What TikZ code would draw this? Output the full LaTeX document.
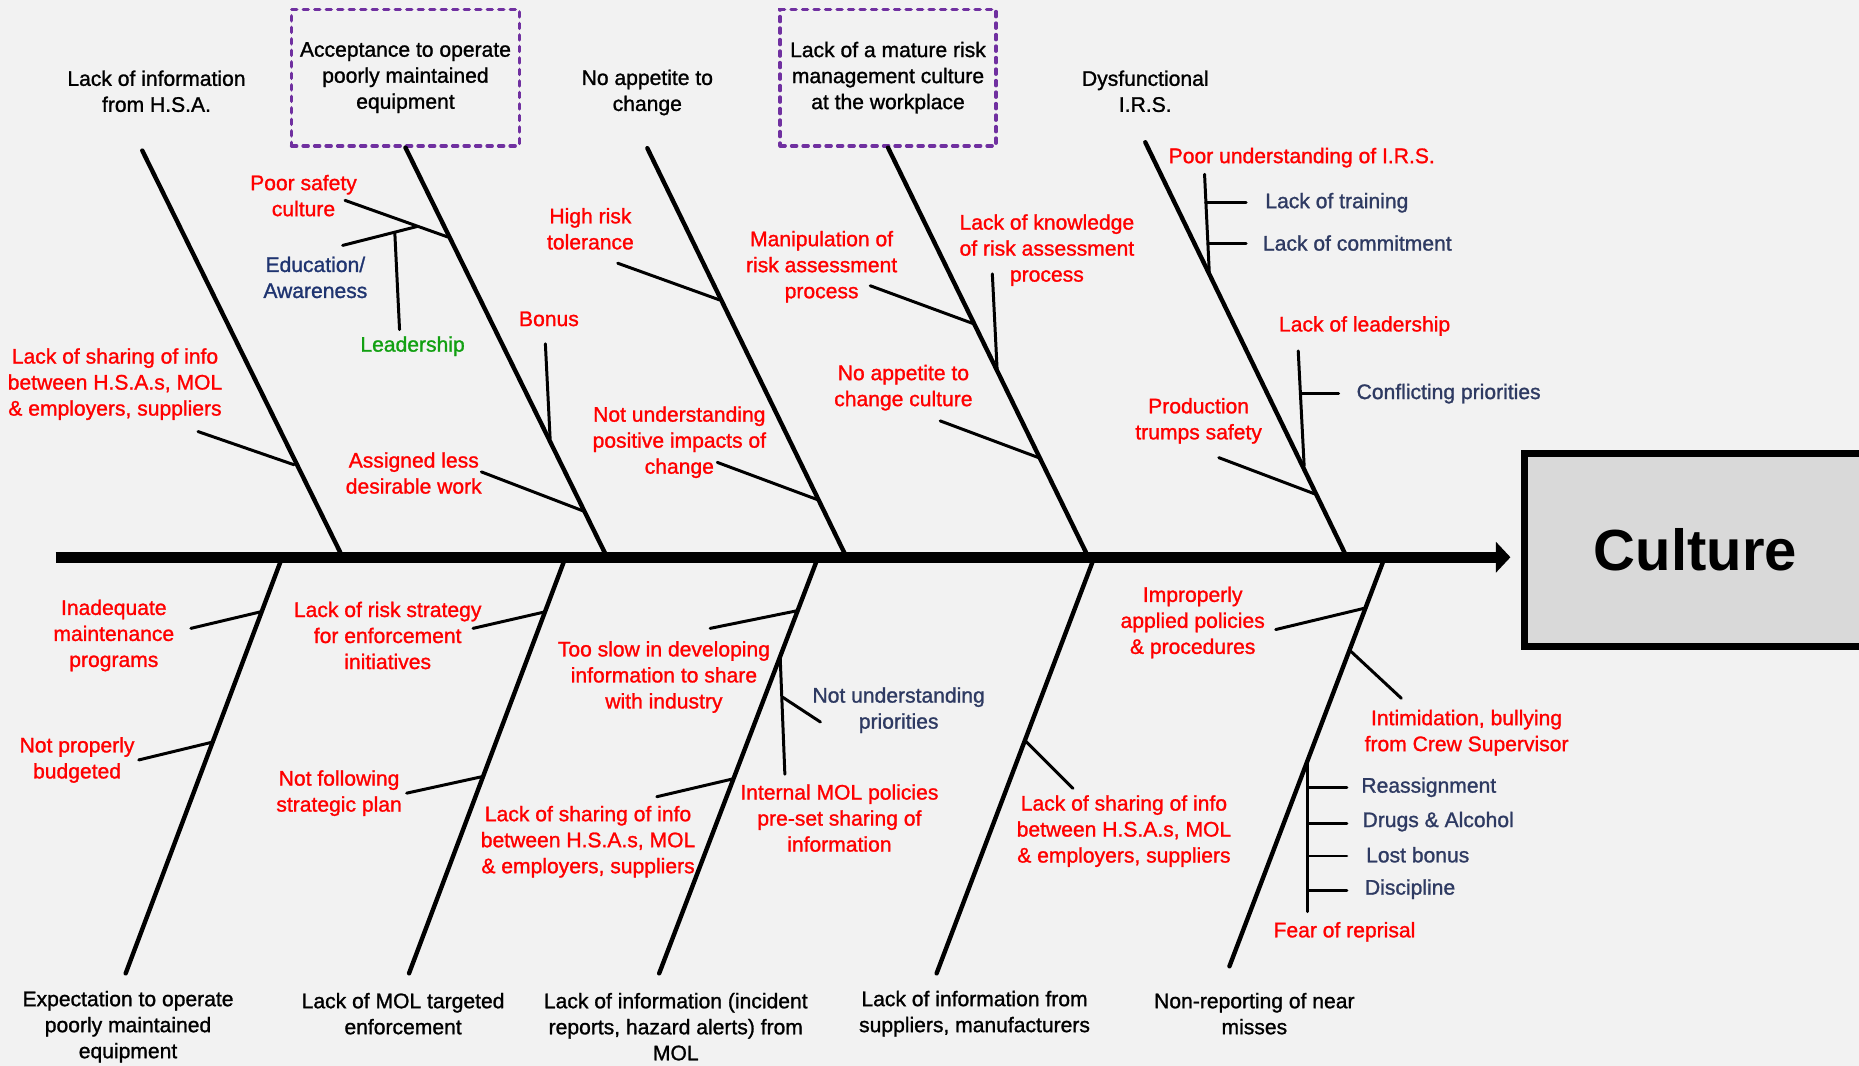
\documentclass[tikz,border=0pt]{standalone}
\usepackage{fontspec}
\setmainfont{Liberation Sans}[UprightFeatures={FakeBold=1.2}]
\usetikzlibrary{arrows.meta}
\definecolor{bg}{HTML}{F2F2F2}
\definecolor{boxgray}{HTML}{D9D9D9}
\definecolor{labred}{HTML}{FF0000}
\definecolor{labblue}{HTML}{2E3A62}
\definecolor{navyblue}{HTML}{1F3470}
\definecolor{labgreen}{HTML}{12A012}
\definecolor{dashpurple}{HTML}{7030A0}
\tikzset{
  txt/.style={font=\fontsize{12}{14.8}\selectfont, align=center, inner sep=0pt},
  blk/.style={txt, text=black},
  rd/.style={txt, text=labred},
  bl/.style={txt, text=labblue},
  bone/.style={line width=2.5pt, line cap=round},
  twig/.style={line width=1.7pt, line cap=round},
  dashbox/.style={draw=dashpurple, line width=2pt, line cap=round, dash pattern=on 0.1cm off 0.13cm, minimum height=2.727cm, txt},
  spine/.style={line width=6.1pt, -{Triangle[length=0.29cm,width=0.6cm]}},
}
\begin{document}
\begin{tikzpicture}[x=0.023712cm,y=-0.023712cm]
\useasboundingbox (0,0) rectangle (1568,899);
\clip (0,0) rectangle (1568,899);
\fill[bg] (0,0) rectangle (1568,899);

% ---------- head ----------
\node (culture) [draw, line width=3.8pt, fill=boxgray, minimum width=6.83cm, minimum height=3.865cm, inner sep=0pt, font=\fontsize{33}{40}\selectfont\bfseries] at (1430,464) {Culture};

% ---------- spine ----------
\coordinate (S0) at (47,470);
\coordinate (S1) at (1274,470);
\draw[spine] (S0) -- (S1);

% ---------- top categories ----------
\node (catA) [blk] at (132,77) {Lack of information\\from H.S.A.};
\node (box1) [dashbox, minimum width=4.553cm] at (342,65.5) {Acceptance to operate\\poorly maintained\\equipment};
\node (catC) [blk] at (546,78) {No appetite to\\change};
\node (box2) [dashbox, minimum width=4.316cm] at (749,65.5) {Lack of a mature risk\\management culture\\at the workplace};
\node (catE) [blk] at (966,77) {Dysfunctional\\I.R.S.};

\coordinate (At) at (120,127); \coordinate (Ab) at (288,468);
\coordinate (Bb) at (511,468);
\coordinate (Ct) at (546,125); \coordinate (Cb) at (713,468);
\coordinate (Db) at (917,468);
\coordinate (Et) at (966,120); \coordinate (Eb) at (1135,468);
\draw[bone] (At) -- (Ab);
\draw[bone] (box1.south) -- (Bb);
\draw[bone] (Ct) -- (Cb);
\draw[bone] (box2.south) -- (Db);
\draw[bone] (Et) -- (Eb);

% ---------- bottom categories ----------
\node (catF) [blk] at (108,866) {Expectation to operate\\poorly maintained\\equipment};
\node (catG) [blk] at (340,855) {Lack of MOL targeted\\enforcement};
\node (catH) [blk] at (570,866) {Lack of information (incident\\reports, hazard alerts) from\\MOL};
\node (catI) [blk] at (822,855) {Lack of information from\\suppliers, manufacturers};
\node (catJ) [blk] at (1058,855) {Non-reporting of near\\misses};

\coordinate (Ft) at (238,470); \coordinate (Fb) at (106,821);
\coordinate (Gt) at (477,470); \coordinate (Gb) at (345,821);
\coordinate (Ht) at (690,470); \coordinate (Hb) at (556,821);
\coordinate (It) at (923,470); \coordinate (Ib) at (790,821);
\coordinate (Jt) at (1168,470); \coordinate (Jb) at (1037,815);
\draw[bone] (Ft) -- (Fb);
\draw[bone] (Gt) -- (Gb);
\draw[bone] (Ht) -- (Hb);
\draw[bone] (It) -- (Ib);
\draw[bone] (Jt) -- (Jb);

% ---------- bone A ----------
\node (a1) [rd] at (97,324) {Lack of sharing of info\\between H.S.A.s, MOL\\\& employers, suppliers};
\coordinate (a1s) at (167,364); \coordinate (a1e) at (248,392);
\draw[twig] (a1s) -- (a1e);

% ---------- bone B ----------
\node (b1) [rd] at (256,165) {Poor safety\\culture};
\coordinate (b1s) at (291,169); \coordinate (b1e) at (378,200);
\draw[twig] (b1s) -- (b1e);
\node (b2) [txt, text=navyblue] at (266,234) {Education/\\Awareness};
\coordinate (b2s) at (289,207); \coordinate (b2e) at (352,191);
\draw[twig] (b2s) -- (b2e);
\node (b3) [txt, text=labgreen] at (348,292) {Leadership};
\coordinate (b3s) at (337,278); \coordinate (b3e) at (333,196);
\draw[twig] (b3s) -- (b3e);
\node (b4) [rd] at (463,269) {Bonus};
\coordinate (b4s) at (460,290); \coordinate (b4e) at (464,370);
\draw[twig] (b4s) -- (b4e);
\node (b5) [rd] at (349,399) {Assigned less\\desirable work};
\coordinate (b5s) at (406,398); \coordinate (b5e) at (492,431);
\draw[twig] (b5s) -- (b5e);

% ---------- bone C ----------
\node (c1) [rd] at (498,193) {High risk\\tolerance};
\coordinate (c1s) at (521,222); \coordinate (c1e) at (607,253);
\draw[twig] (c1s) -- (c1e);
\node (c2) [rd] at (573,373) {Not understanding\\positive impacts of\\change};
\coordinate (c2s) at (605,390); \coordinate (c2e) at (691,422);
\draw[twig] (c2s) -- (c2e);

% ---------- bone D ----------
\node (d1) [rd] at (693,225) {Manipulation of\\risk assessment\\process};
\coordinate (d1s) at (734,241); \coordinate (d1e) at (821,273);
\draw[twig] (d1s) -- (d1e);
\node (d2) [rd] at (883,211) {Lack of knowledge\\of risk assessment\\process};
\coordinate (d2s) at (837,231); \coordinate (d2e) at (841,311);
\draw[twig] (d2s) -- (d2e);
\node (d3) [rd] at (762,327) {No appetite to\\change culture};
\coordinate (d3s) at (793,355); \coordinate (d3e) at (876,386);
\draw[twig] (d3s) -- (d3e);

% ---------- bone E ----------
\node (e1) [rd] at (1098,133) {Poor understanding of I.R.S.};
\coordinate (e1s) at (1016,147); \coordinate (e1e) at (1020,230);
\draw[twig] (e1s) -- (e1e);
\node (e1a) [bl, anchor=west] at (1067,171) {Lack of training};
\coordinate (e1as) at (1017,171); \coordinate (e1ae) at (1051,171);
\draw[twig] (e1as) -- (e1ae);
\node (e1b) [bl, anchor=west] at (1065,205) {Lack of commitment};
\coordinate (e1bs) at (1019,205); \coordinate (e1be) at (1051,205);
\draw[twig] (e1bs) -- (e1be);
\node (e2) [rd] at (1151,275) {Lack of leadership};
\coordinate (e2s) at (1095,296); \coordinate (e2e) at (1100,393);
\draw[twig] (e2s) -- (e2e);
\node (e2a) [bl, anchor=west] at (1144,332) {Conflicting priorities};
\coordinate (e2as) at (1097,332); \coordinate (e2ae) at (1129,332);
\draw[twig] (e2as) -- (e2ae);
\node (e3) [rd] at (1011,355) {Production\\trumps safety};
\coordinate (e3s) at (1028,386); \coordinate (e3e) at (1110,417);
\draw[twig] (e3s) -- (e3e);

% ---------- bone F ----------
\node (f1) [rd] at (96,536) {Inadequate\\maintenance\\programs};
\coordinate (f1s) at (161,530); \coordinate (f1e) at (220,516);
\draw[twig] (f1s) -- (f1e);
\node (f2) [rd] at (65,641) {Not properly\\budgeted};
\coordinate (f2s) at (117,641); \coordinate (f2e) at (179,626);
\draw[twig] (f2s) -- (f2e);

% ---------- bone G ----------
\node (g1) [rd] at (327,536) {Lack of risk strategy\\for enforcement\\initiatives};
\coordinate (g1s) at (399,530); \coordinate (g1e) at (460,516);
\draw[twig] (g1s) -- (g1e);
\node (g2) [rd] at (286,669) {Not following\\strategic plan};
\coordinate (g2s) at (343,669); \coordinate (g2e) at (407,655);
\draw[twig] (g2s) -- (g2e);

% ---------- bone H ----------
\node (h1) [rd] at (560,571) {Too slow in developing\\information to share\\with industry};
\coordinate (h1s) at (599,530); \coordinate (h1e) at (673,515);
\draw[twig] (h1s) -- (h1e);
\node (h2) [rd] at (708,690) {Internal MOL policies\\pre-set sharing of\\information};
\coordinate (h2s) at (662,653); \coordinate (h2e) at (658,553);
\draw[twig] (h2s) -- (h2e);
\node (h2a) [bl] at (758,599) {Not understanding\\priorities};
\coordinate (h2as) at (692,609); \coordinate (h2ae) at (660,588);
\draw[twig] (h2as) -- (h2ae);
\node (h3) [rd] at (496,710) {Lack of sharing of info\\between H.S.A.s, MOL\\\& employers, suppliers};
\coordinate (h3s) at (554,672); \coordinate (h3e) at (618,657);
\draw[twig] (h3s) -- (h3e);

% ---------- bone I ----------
\node (i1) [rd] at (948,701) {Lack of sharing of info\\between H.S.A.s, MOL\\\& employers, suppliers};
\coordinate (i1s) at (905,665); \coordinate (i1e) at (865,625);
\draw[twig] (i1s) -- (i1e);

% ---------- bone J ----------
\node (j1) [rd] at (1006,525) {Improperly\\applied policies\\\& procedures};
\coordinate (j1s) at (1076,531); \coordinate (j1e) at (1151,513);
\draw[twig] (j1s) -- (j1e);
\node (j2) [rd] at (1237,618) {Intimidation, bullying\\from Crew Supervisor};
\coordinate (j2s) at (1182,589); \coordinate (j2e) at (1139,549);
\draw[twig] (j2s) -- (j2e);
\node (j3) [rd] at (1134,786) {Fear of reprisal};
\coordinate (j3s) at (1103,769); \coordinate (j3e) at (1103,643);
\draw[twig] (j3s) -- (j3e);
\node (j3a) [bl, anchor=west] at (1148,664) {Reassignment};
\node (j3b) [bl, anchor=west] at (1149,693) {Drugs \& Alcohol};
\node (j3c) [bl, anchor=west] at (1152,721) {Lost bonus};
\node (j3d) [bl, anchor=west] at (1151,750) {Discipline};
\foreach \n/\y in {j3a/664, j3b/695, j3c/722, j3d/751} {
  \coordinate (\n s) at (1103,\y); \coordinate (\n e) at (1136,\y);
  \draw[twig] (\n s) -- (\n e);
}
\end{tikzpicture}
\end{document}
